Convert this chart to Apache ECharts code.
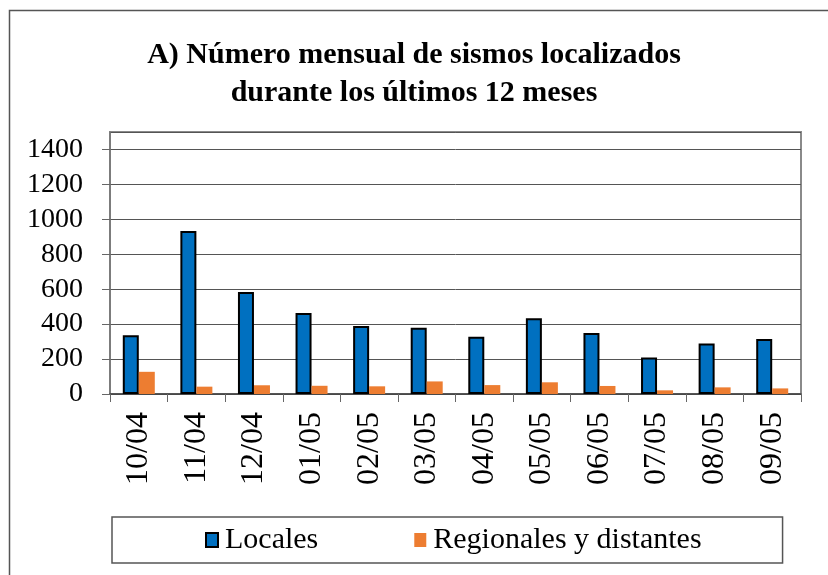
<!DOCTYPE html>
<html>
<head>
<meta charset="utf-8">
<script src="https://cdn.jsdelivr.net/npm/echarts@6/dist/echarts.min.js"></script>
<style>
html,body{margin:0;padding:0;background:#fff;}
#chart{width:828px;height:575px;}
</style>
</head>
<body>
<div id="chart"></div>
<script>
const titleText = 'A) Número mensual de sismos localizados\ndurante los últimos 12 meses';
const categories = ['10/04','11/04','12/04','01/05','02/05','03/05','04/05','05/05','06/05','07/05','08/05','09/05'];
const localesName = 'Locales';
const regionalesName = 'Regionales y distantes';
const locales = [337, 933, 584, 464, 390, 380, 328, 434, 349, 209, 289, 315];
const regionales = [127, 42, 50, 47, 44, 72, 51, 67, 46, 21, 38, 32];
const yTicks = {min: 0, max: 1500, interval: 200};

const FONT = 'Liberation Serif';
const chart = echarts.init(document.getElementById('chart'), null, {renderer: 'canvas'});
chart.setOption({
  backgroundColor: '#fff',
  animation: false,
  graphic: [{
    type: 'rect', left: 7, top: 8, silent: true,
    shape: {width: 900, height: 700},
    style: {fill: 'none', stroke: '#555', lineWidth: 1.5}
  }],
  title: {
    text: titleText,
    left: 'center',
    top: 31,
    textStyle: {fontFamily: FONT, fontWeight: 'bold', fontSize: 30, lineHeight: 38, color: '#000'}
  },
  legend: {
    left: 112, top: 517,
    padding: [8, 81, 8, 93],
    borderColor: '#555', borderWidth: 1.5,
    itemWidth: 12, itemHeight: 14, itemGap: 96,
    icon: 'rect',
    textStyle: {fontFamily: FONT, fontSize: 30, color: '#000', padding: [0, 0, 0, 2]},
    data: [localesName, regionalesName]
  },
  grid: {
    left: 110, right: 27, top: 132, bottom: 181,
    show: true, borderColor: '#8a8a8a', borderWidth: 2, backgroundColor: '#fff'
  },
  xAxis: {
    type: 'category',
    data: categories,
    axisLine: {lineStyle: {color: '#444', width: 1.5}},
    axisTick: {show: true, alignWithLabel: false, length: 8, lineStyle: {color: '#666'}},
    axisLabel: {rotate: 90, margin: 18, fontFamily: FONT, fontSize: 32, color: '#000'},
    splitLine: {show: false}
  },
  yAxis: {
    type: 'value',
    min: yTicks.min, max: yTicks.max, interval: yTicks.interval,
    axisLine: {show: true, lineStyle: {color: '#777', width: 1.5}},
    axisTick: {show: true, length: 8, lineStyle: {color: '#666'}},
    axisLabel: {margin: 27, fontFamily: FONT, fontSize: 28, color: '#000', showMaxLabel: false,
      formatter: v => String(v)},
    splitLine: {show: true, lineStyle: {color: '#555', width: 1}}
  },
  series: [
    {
      name: localesName, type: 'bar', data: locales,
      barWidth: 16, barGap: '0%',
      itemStyle: {color: '#0070C0', borderColor: '#000', borderWidth: 2}
    },
    {
      name: regionalesName, type: 'bar', data: regionales,
      barWidth: 16, barGap: '0%',
      itemStyle: {color: '#ED7D31'}
    }
  ]
});
</script>
</body>
</html>
